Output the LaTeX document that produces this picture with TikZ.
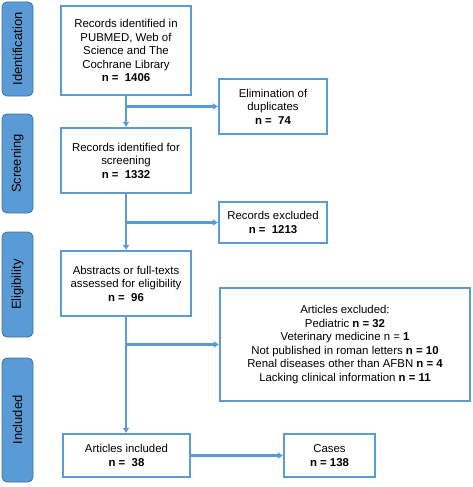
\documentclass[tikz,border=0pt]{standalone}
\usepackage{fontspec}
\setmainfont{Liberation Sans}
\usetikzlibrary{arrows.meta}
\definecolor{tabfill}{HTML}{5B9BD5}
\definecolor{tabedge}{HTML}{41719C}
\definecolor{lineblue}{HTML}{5B9BD5}
\begin{document}
\begin{tikzpicture}[x=1pt,y=-1pt,
  tab/.style={draw=tabedge, fill=tabfill, line width=0.8pt, rounded corners=5pt, minimum width=31pt, inner sep=0pt},
  tabtext/.style={font=\fontsize{13}{15}\selectfont, text=black, rotate=90},
  boxnode/.style={draw=lineblue, line width=2.3pt, fill=white, align=center, inner sep=0pt,
    font=\fontsize{11.4}{13.5}\selectfont},
  conn/.style={draw=lineblue, line width=2.3pt, -{Triangle[length=5pt,width=6pt]}},
  plain/.style={draw=lineblue, line width=2.3pt}
]
\useasboundingbox (0,0) rectangle (472,487);
% side tabs
\node[tab, minimum height=94pt] (tid) at (17.5,49) {};
\node[tabtext] (tidt) at (tid.center) {Identification};
\node[tab, minimum height=99pt] (tsc) at (17.5,163.5) {};
\node[tabtext] (tsct) at (tsc.center) {Screening};
\node[tab, minimum height=105pt] (tel) at (17.5,284.5) {};
\node[tabtext] (telt) at (tel.center) {Eligibility};
\node[tab, minimum height=124pt] (tin) at (17.5,420) {};
\node[tabtext] (tint) at (tin.center) {Included};
% boxes
\node[boxnode, minimum width=130pt, minimum height=89pt] (b1) at (126,50.5)
  {Records identified in\\PUBMED, Web of\\Science and The\\Cochrane Library\\\textbf{n =\ \ 1406}};
\node[boxnode, minimum width=130pt, minimum height=65pt] (b2) at (126,160.5)
  {Records identified for\\screening\\\textbf{n =\ \ 1332}};
\node[boxnode, minimum width=130pt, minimum height=65pt] (b3) at (126,283.5)
  {Abstracts or full-texts\\assessed for eligibility\\\textbf{n =\ \ 96}};
\node[boxnode, minimum width=127pt, minimum height=43pt] (b4) at (126.5,455.5)
  {Articles included\\\textbf{n =\ \ 38}};
\node[boxnode, minimum width=108pt, minimum height=55pt] (e1) at (273,106.5)
  {Elimination of\\duplicates\\\textbf{n =\ \ 74}};
\node[boxnode, minimum width=108pt, minimum height=41pt] (e2) at (273,222.5)
  {Records excluded\\\textbf{n =\ \ 1213}};
\node[boxnode, minimum width=250pt, minimum height=113pt] (e3) at (345,344.5)
  {Articles excluded:\\Pediatric \textbf{n = 32}\\Veterinary medicine n = \textbf{1}\\Not published in roman letters \textbf{n = 10}\\Renal diseases other than AFBN \textbf{n = 4}\\Lacking clinical information \textbf{n = 11}};
\node[boxnode, minimum width=91pt, minimum height=43pt] (c1) at (329.5,455.5)
  {Cases\\\textbf{n = 138}};
% connectors
\draw[conn] (b1.south) -- (b2.north);
\draw[conn] (b2.south) -- (b3.north);
\draw[conn] (b3.south) -- (b3.south |- b4.north);
\draw[conn] (b1.south |- e1.west) -- (e1.west);
\draw[conn] (b2.south |- e2.west) -- (e2.west);
\draw[conn] (b3.south |- e3.west) -- (e3.west);
\draw[conn] (b4.east) -- (c1.west);
\end{tikzpicture}
\end{document}
